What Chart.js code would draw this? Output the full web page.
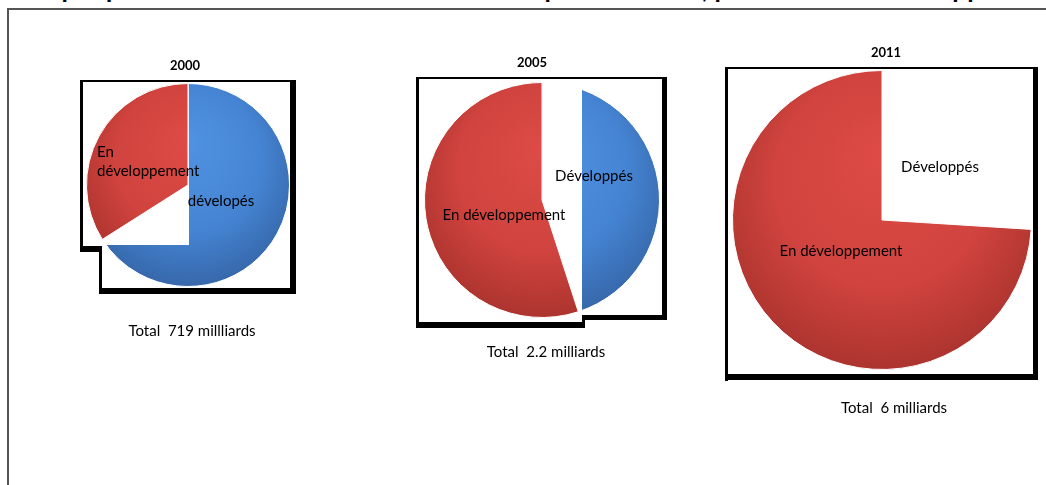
<!DOCTYPE html>
<html>
<head>
<meta charset="utf-8">
<script src="https://cdn.jsdelivr.net/npm/chart.js@4/dist/chart.umd.min.js"></script>
<style>
  html, body { margin: 0; padding: 0; background: #fff; }
  body { width: 1046px; height: 485px; overflow: hidden; position: relative; font-family: Lato, sans-serif; }
  #title { position: absolute; left: 20px; top: -25px; font: bold 26px/27px Lato, sans-serif; white-space: nowrap; color: #000; }
  #frame { position: absolute; left: 7px; top: 8px; width: 1100px; height: 600px; border-top: 2px solid #555; border-left: 2px solid #555; background: transparent; }
  canvas { position: absolute; }
</style>
</head>
<body>
<div id="title">Graphique 1 : Nombre d'abonnements de téléphone mobile, par niveau de développement</div>
<div id="frame"></div>
<canvas id="pie0"></canvas>
<canvas id="pie1"></canvas>
<canvas id="pie2"></canvas>
<script>
// Subscriptions split by development level (share of total, %)
const years = ['2000', '2005', '2011'];
const sliceNames = ['Développés', 'En développement'];
const developedShare = [66, 45, 26];
const developingShare = [34, 55, 74];
const developedLabels = ['dévelopés', 'Développés', 'Développés'];
const developingLabels = [['En', 'développement'], ['En développement'], ['En développement']];
const totalLabels = ['Total  719 millliards', 'Total  2.2 milliards', 'Total  6 milliards'];

// light / mid / dark stops of each slice colour
const sliceStops = [
  ['#5093e2', '#4584d3', '#3565a6'],
  ['#de4b46', '#d0433e', '#a9322d']
];

// Page-space layout of each panel: canvas box, padding around the pie,
// text anchors, the white cut-out and the black picture frame pieces.
const panels = [
  {
    box: [60, 50, 260, 295], pad: { left: 26, right: 30, top: 33, bottom: 58 },
    year: [185, 66], total: [192, 331],
    dev: { x: 221, y: 201, align: 'center' },
    dvg: { x: 97, y: 152, align: 'left', lh: 19 },
    mask: [84, 184, 105, 61],
    frame: [[80, 80, 216, 2], [80, 80, 3, 172], [80, 246, 22, 6], [99, 246, 3, 48], [99, 288, 197, 6], [290, 80, 6, 214]]
  },
  {
    box: [400, 45, 280, 320], pad: { left: 24, right: 20, top: 37, bottom: 47 },
    year: [532, 63], total: [546, 352],
    dev: { x: 594, y: 176, align: 'center' },
    dvg: { x: 504, y: 215, align: 'center', lh: 19 },
    mask: [543, 78, 39, 244],
    frame: [[416, 77, 251, 2], [416, 77, 3, 251], [416, 322, 169, 6], [582, 315, 3, 13], [582, 315, 85, 5], [662, 77, 5, 243]]
  },
  {
    box: [710, 40, 336, 380], pad: { left: 22, right: 14, top: 30, bottom: 50 },
    year: [886, 53], total: [894, 408],
    dev: { x: 940, y: 167, align: 'center' },
    dvg: { x: 841, y: 251, align: 'center', lh: 19 },
    mask: [882, 69, 151, 162],
    frame: [[725, 67, 313, 2], [725, 67, 3, 314], [725, 374, 313, 6], [1033, 67, 5, 313]]
  }
];

// soft 3-D look: a little lighter toward the top, darker toward the rim
function sliceFill(c) {
  const stops = sliceStops[c.dataIndex];
  const chart = c.chart;
  const a = chart.chartArea;
  if (!a) return stops[1];
  const cx = (a.left + a.right) / 2, cy = (a.top + a.bottom) / 2;
  const r = Math.min(a.right - a.left, a.bottom - a.top) / 2;
  const g = chart.ctx.createRadialGradient(cx, cy - 0.45 * r, 0, cx, cy - 0.15 * r, 1.2 * r);
  g.addColorStop(0, stops[0]);
  g.addColorStop(0.6, stops[1]);
  g.addColorStop(1, stops[2]);
  return g;
}

const decor = {
  id: 'decor',
  afterDatasetsDraw(chart, args, opts) {
    const p = opts.panel, i = opts.index;
    const ox = p.box[0], oy = p.box[1];
    const ctx = chart.ctx;
    ctx.save();
    // white cut-out, then the developing slice back on top
    ctx.fillStyle = '#fff';
    ctx.fillRect(p.mask[0] - ox, p.mask[1] - oy, p.mask[2], p.mask[3]);
    chart.getDatasetMeta(0).data[1].draw(ctx);
    // picture frame with drop shadow
    ctx.fillStyle = '#000';
    p.frame.forEach(r => ctx.fillRect(r[0] - ox, r[1] - oy, r[2], r[3]));
    // texts
    ctx.fillStyle = '#000';
    ctx.textBaseline = 'middle';
    ctx.font = 'bold 13px Lato, sans-serif';
    ctx.textAlign = 'center';
    ctx.fillText(years[i], p.year[0] - ox, p.year[1] - oy);
    ctx.font = '15px Lato, sans-serif';
    ctx.fillText(totalLabels[i], p.total[0] - ox, p.total[1] - oy);
    ctx.textAlign = p.dev.align;
    ctx.fillText(developedLabels[i], p.dev.x - ox, p.dev.y - oy);
    ctx.textAlign = p.dvg.align;
    developingLabels[i].forEach((line, k) => ctx.fillText(line, p.dvg.x - ox, p.dvg.y - oy + k * p.dvg.lh));
    ctx.restore();
  }
};

years.forEach((year, i) => {
  const p = panels[i];
  const cv = document.getElementById('pie' + i);
  cv.width = p.box[2];
  cv.height = p.box[3];
  cv.style.left = p.box[0] + 'px';
  cv.style.top = p.box[1] + 'px';
  new Chart(cv, {
    type: 'pie',
    data: {
      labels: sliceNames,
      datasets: [{
        data: [developedShare[i], developingShare[i]],
        backgroundColor: sliceFill,
        borderColor: '#fff',
        borderWidth: 1
      }]
    },
    options: {
      responsive: false,
      animation: false,
      events: [],
      layout: { padding: p.pad },
      plugins: {
        legend: { display: false },
        tooltip: { enabled: false },
        decor: { panel: p, index: i }
      }
    },
    plugins: [decor]
  });
});
</script>
</body>
</html>
